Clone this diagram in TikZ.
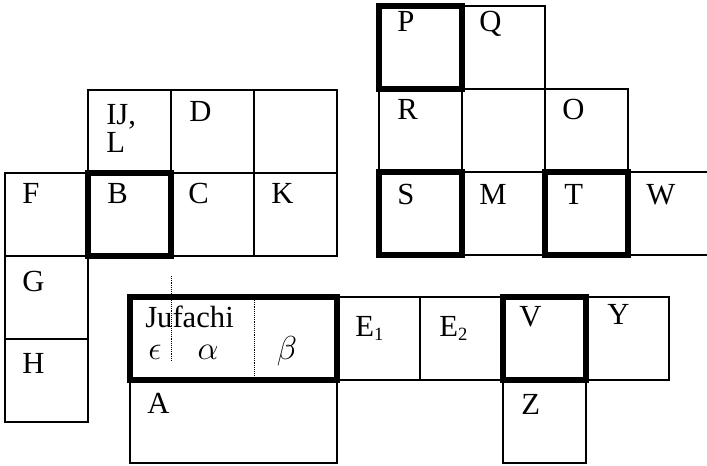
\documentclass[tikz,border=0pt]{standalone}
\usepackage{fontspec}
\setmainfont{Liberation Serif}
\begin{document}
\begin{tikzpicture}[x=0.75pt,y=-0.75pt,
  cell/.style={draw, line width=1pt},
  boldcell/.style={draw, line width=3.8pt},
  lbl/.style={anchor=base west, inner sep=0pt, font=\fontsize{23}{21}\selectfont}]
  \useasboundingbox (0,0) rectangle (707,466);
  % left group
  \foreach \x/\y in {88/90,171/90,254/90,5/173,88/173,171/173,254/173,5/256,5/339}
    \draw[cell] (\x,\y) rectangle ++(83,83);
  \draw[boldcell] (88,173) rectangle ++(83,83);
  \node[lbl, anchor=north west, align=left] (ijl) at (106,104) {IJ,\\L};
  \node[lbl] (d) at (189,122) {D};
  \node[lbl] (f) at (22,204) {F};
  \node[lbl] (b) at (107,204) {B};
  \node[lbl] (c) at (188,204) {C};
  \node[lbl] (k) at (271,204) {K};
  \node[lbl] (g) at (22,292) {G};
  \node[lbl] (h) at (22,374) {H};
  % bottom group
  \draw[cell] (130,380) rectangle (337,463);
  \foreach \x in {337,420,586}
    \draw[cell] (\x,297) rectangle ++(83,83);
  \draw[cell] (503,380) rectangle ++(83,83);
  \draw[boldcell] (130,297) rectangle (337,380);
  \draw[boldcell] (503,297) rectangle ++(83,83);
  \draw[dash pattern=on 0.7pt off 0.7pt, line width=0.6pt] (171,276) -- (171,361);
  \draw[dash pattern=on 0.7pt off 0.7pt, line width=0.6pt] (254,300) -- (254,376);
  \node[lbl] (jufachi) at (145,328) {Jufachi};
  \node[lbl] (eps) at (148,360) {$\epsilon$};
  \node[lbl, anchor=base] (alpha) at (208,360) {$\alpha$};
  \node[lbl, anchor=base] (beta) at (287,360) {$\beta$};
  \node[lbl] (a) at (147,414) {A};
  \node[lbl] (e1) at (355,337) {E\raisebox{-0.25ex}{\fontsize{14}{14}\selectfont 1}};
  \node[lbl] (e2) at (439,337) {E\raisebox{-0.25ex}{\fontsize{14}{14}\selectfont 2}};
  \node[lbl] (v) at (519,327) {V};
  \node[lbl] (y) at (607,325) {Y};
  \node[lbl] (z) at (521,415) {Z};
  % right group
  \foreach \x/\y in {379/6,462/6,379/89,462/89,545/89,379/172,462/172,545/172}
    \draw[cell] (\x,\y) rectangle ++(83,83);
  \draw[cell] (707,172) -- (628,172) -- (628,255) -- (707,255);
  \foreach \x/\y in {379/6,379/172,545/172}
    \draw[boldcell] (\x,\y) rectangle ++(83,83);
  \node[lbl] (p) at (397,32) {P};
  \node[lbl] (q) at (479,32) {Q};
  \node[lbl] (r) at (397,120) {R};
  \node[lbl] (o) at (562,120) {O};
  \node[lbl] (s) at (397,205) {S};
  \node[lbl] (m) at (479,205) {M};
  \node[lbl] (t) at (564,205) {T};
  \node[lbl] (w) at (646,205) {W};
\end{tikzpicture}
\end{document}
